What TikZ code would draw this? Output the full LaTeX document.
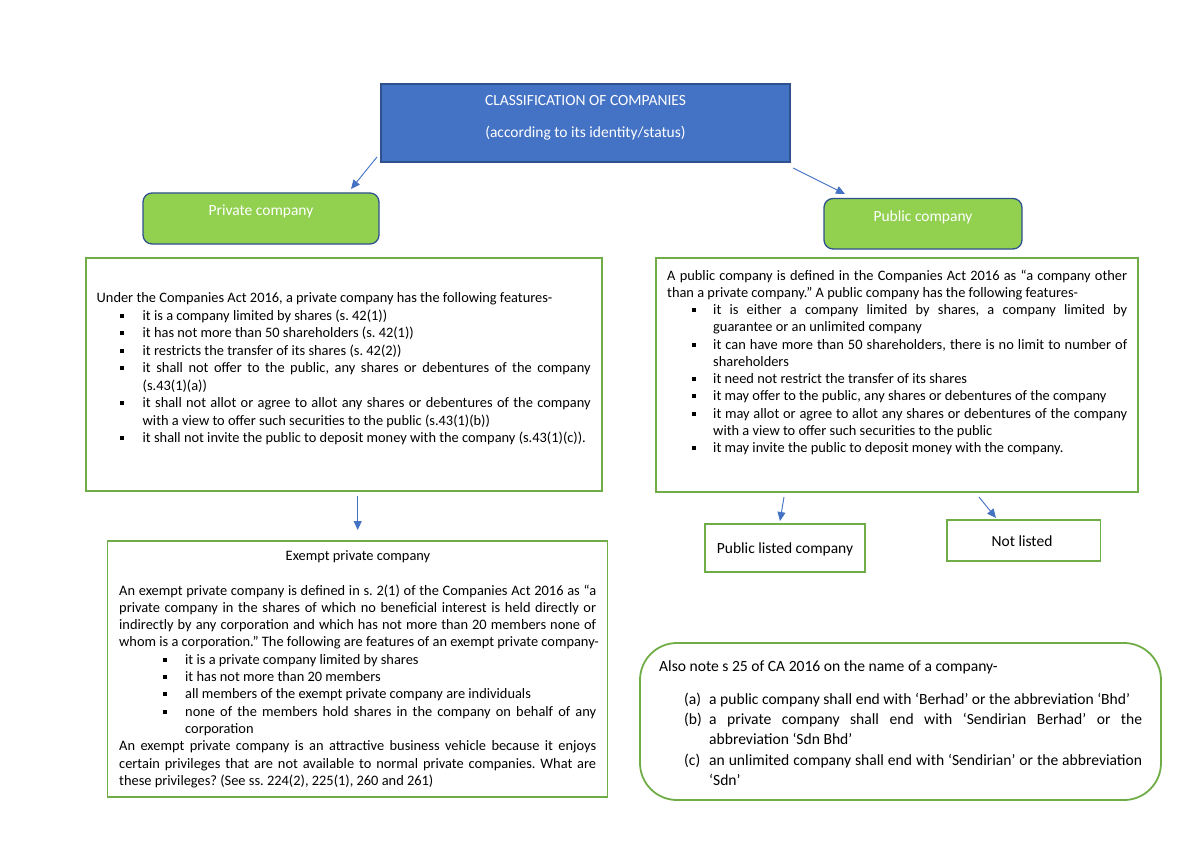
\documentclass[tikz,border=0pt]{standalone}
\usepackage{fontspec}
\setmainfont{Carlito}
\usetikzlibrary{arrows.meta}
\frenchspacing
\definecolor{tblue}{HTML}{4472C4}
\definecolor{dblue}{HTML}{2F528F}
\definecolor{lgreen}{HTML}{92D050}
\definecolor{bgreen}{HTML}{70AD47}
\newcommand\sq{\rule[2.5pt]{4pt}{4pt}}
\newcommand\J[2]{\hbox to #1pt{#2}}
\newcommand\Bl[3]{\hbox{\kern#1pt\hbox to #2pt{\sq\hss}#3}}
\newcommand\Cl[2]{\hbox{\kern#1pt #2}}
\newcommand\Pl[1]{\hbox{#1}}
\tikzset{
  bx/.style={inner sep=0pt, outer sep=0pt},
  titlebox/.style={bx, draw=dblue, fill=tblue, line width=1.3pt},
  catbox/.style={bx, draw=dblue, fill=lgreen, line width=1.3pt, rounded corners=9pt},
  gbox/.style={bx, draw=bgreen, line width=1.8pt},
  notebox/.style={bx, draw=bgreen, line width=1.8pt, rounded corners=37pt},
  lbl/.style={inner sep=0pt, anchor=base, font=\fontsize{15.5}{18}\selectfont\frenchspacing},
  txt/.style={inner sep=0pt, anchor=base west, font=\fontsize{14.4}{17.4}\selectfont\frenchspacing},
  ntxt/.style={inner sep=0pt, anchor=base west, font=\fontsize{15.6}{20.4}\selectfont\frenchspacing},
  arr/.style={draw=tblue, line width=0.9pt, -{Triangle[length=9pt,width=8pt]}, fill=tblue}
}
\begin{document}
\begin{tikzpicture}[x=1pt,y=-1pt]
\useasboundingbox (0,0) rectangle (1200,848);
% boxes
\node[titlebox, minimum width=409pt, minimum height=78pt] (title) at (585.5,123) {};
\node[catbox, minimum width=236pt, minimum height=51pt] (priv) at (261,218.5) {};
\node[catbox, minimum width=198pt, minimum height=50.5pt] (pub) at (923,223.75) {};
\node[gbox, minimum width=516pt, minimum height=233pt] (privf) at (344,374.5) {};
\node[gbox, minimum width=482pt, minimum height=234pt] (pubf) at (897,375) {};
\node[gbox, minimum width=500pt, minimum height=256pt] (exempt) at (357.5,669) {};
\node[gbox, minimum width=160pt, minimum height=48pt] (plc) at (785,548) {};
\node[gbox, minimum width=153.5pt, minimum height=41pt] (nl) at (1023.75,540.5) {};
\node[notebox, minimum width=521pt, minimum height=157pt] (note) at (900.5,721.5) {};
% labels
\node[lbl, text=white] (t1) at (585.5,105.5) {CLASSIFICATION OF COMPANIES};
\node[lbl, text=white] (t2) at (585.5,138) {(according to its identity/status)};
\node[lbl, text=white] (privl) at (261,215.5) {Private company};
\node[lbl, text=white] (publ) at (923,221.5) {Public company};
\node[lbl] (plcl) at (785,553) {Public listed company};
\node[lbl] (nll) at (1022,546) {Not listed};
\node[lbl, font=\fontsize{14.4}{17.4}\selectfont] (exl) at (358,560) {Exempt private company};
% private features
\node[txt] (privt) at (96.5,302.5) {\vtop{\baselineskip=17.5pt\lineskiplimit=-50pt
\Pl{Under the Companies Act 2016, a private company has the following features-}
\Bl{23.5}{22.5}{it is a company limited by shares (s. 42(1))}
\Bl{23.5}{22.5}{it has not more than 50 shareholders (s. 42(1))}
\Bl{23.5}{22.5}{it restricts the transfer of its shares (s. 42(2))}
\Bl{23.5}{22.5}{\J{448}{it shall not offer to the public, any shares or debentures of the company}}
\Cl{46}{(s.43(1)(a))}
\Bl{23.5}{22.5}{\J{448}{it shall not allot or agree to allot any shares or debentures of the company}}
\Cl{46}{with a view to offer such securities to the public (s.43(1)(b))}
\Bl{23.5}{22.5}{it shall not invite the public to deposit money with the company (s.43(1)(c)).}
}};
% public features
\node[txt] (pubt) at (667,280) {\vtop{\baselineskip=17.27pt\lineskiplimit=-50pt
\J{460}{A public company is defined in the Companies Act 2016 as “a company other}
\Pl{than a private company.” A public company has the following features-}
\Bl{25}{21}{\J{414}{it is either a company limited by shares, a company limited by}}
\Cl{46}{guarantee or an unlimited company}
\Bl{25}{21}{\J{414}{it can have more than 50 shareholders, there is no limit to number of}}
\Cl{46}{shareholders}
\Bl{25}{21}{it need not restrict the transfer of its shares}
\Bl{25}{21}{it may offer to the public, any shares or debentures of the company}
\Bl{25}{21}{\J{414}{it may allot or agree to allot any shares or debentures of the company}}
\Cl{46}{with a view to offer such securities to the public}
\Bl{25}{21}{it may invite the public to deposit money with the company.}
}};
% exempt
\node[txt] (ext) at (119,595) {\vtop{\baselineskip=17.33pt\lineskiplimit=-50pt
\J{477}{An exempt private company is defined in s. 2(1) of the Companies Act 2016 as “a}
\J{477}{private company in the shares of which no beneficial interest is held directly or}
\J{477}{indirectly by any corporation and which has not more than 20 members none of}
\Pl{whom is a corporation.” The following are features of an exempt private company-}
\Bl{43.5}{22.5}{it is a private company limited by shares}
\Bl{43.5}{22.5}{it has not more than 20 members}
\Bl{43.5}{22.5}{all members of the exempt private company are individuals}
\Bl{43.5}{22.5}{\J{411}{none of the members hold shares in the company on behalf of any}}
\Cl{66}{corporation}
\J{477}{An exempt private company is an attractive business vehicle because it enjoys}
\J{477}{certain privileges that are not available to normal private companies. What are}
\Pl{these privileges? (See ss. 224(2), 225(1), 260 and 261)}
}};
% note
\node[ntxt] (notet) at (659,671) {\vtop{\baselineskip=20.4pt\lineskiplimit=-50pt
\Pl{Also note s 25 of CA 2016 on the name of a company-}
\kern12.6pt
\hbox{\kern25pt\hbox to 25pt{(a)\hss}a public company shall end with ‘Berhad’ or the abbreviation ‘Bhd’}
\hbox{\kern25pt\hbox to 25pt{(b)\hss}\J{433}{a private company shall end with ‘Sendirian Berhad’ or the}}
\Cl{50}{abbreviation ‘Sdn Bhd’}
\hbox{\kern25pt\hbox to 25pt{(c)\hss}\J{433}{an unlimited company shall end with ‘Sendirian’ or the abbreviation}}
\Cl{50}{‘Sdn’}
}};
% connectors
\coordinate (a1s) at (377,157); \coordinate (a1e) at (351,189);
\coordinate (a2s) at (793,168); \coordinate (a2e) at (845,194);
\coordinate (a3s) at (357.7,496); \coordinate (a3e) at (357.7,530);
\coordinate (a4s) at (784,497); \coordinate (a4e) at (780,521);
\coordinate (a5s) at (979,497); \coordinate (a5e) at (996,518);
\draw[arr] (a1s) -- (a1e);
\draw[arr] (a2s) -- (a2e);
\draw[arr] (a3s) -- (a3e);
\draw[arr] (a4s) -- (a4e);
\draw[arr] (a5s) -- (a5e);
\end{tikzpicture}
\end{document}
